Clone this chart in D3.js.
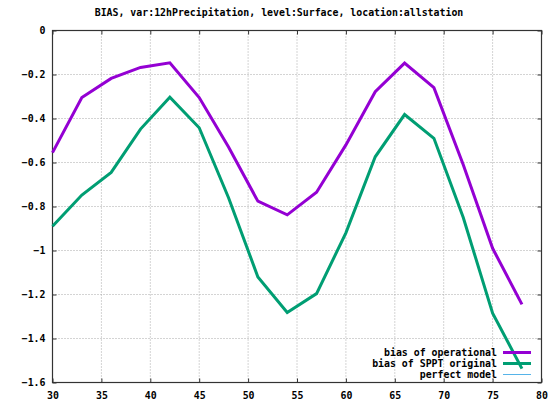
<!DOCTYPE html>
<html>
<head>
<meta charset="utf-8">
<script src="https://cdn.jsdelivr.net/npm/d3@7"></script>
<style>
  html, body { margin: 0; padding: 0; background: #fff; }
  svg { display: block; }
  text { font-family: "DejaVu Sans Mono", monospace; font-weight: bold; font-size: 9.9px; fill: #000; }
</style>
</head>
<body>
<svg id="chart" width="554" height="403"></svg>
<script>
const title = "BIAS, var:12hPrecipitation, level:Surface, location:allstation";
const leadHours = [30, 33, 36, 39, 42, 45, 48, 51, 54, 57, 60, 63, 66, 69, 72, 75, 78];
const biasOperational = [-0.555, -0.305, -0.218, -0.168, -0.147, -0.305, -0.53, -0.776, -0.838, -0.735, -0.52, -0.278, -0.148, -0.26, -0.61, -0.99, -1.245];
const biasSPPT = [-0.89, -0.748, -0.645, -0.448, -0.303, -0.442, -0.76, -1.12, -1.282, -1.196, -0.92, -0.574, -0.382, -0.49, -0.85, -1.285, -1.537];
const seriesNames = ["bias of operational", "bias of SPPT original", "perfect model"];
const xTicks = [30, 35, 40, 45, 50, 55, 60, 65, 70, 75, 80];
const yTicks = [0, -0.2, -0.4, -0.6, -0.8, -1, -1.2, -1.4, -1.6];

const svg = d3.select("#chart");
const L = 52.5, R = 541.5, T = 30.5, B = 382.5;
const x = d3.scaleLinear().domain([30, 80]).range([L, R]);
const y = d3.scaleLinear().domain([-1.6, 0]).range([B, T]);

// Title
svg.append("text").attr("x", 279).attr("y", 16).attr("text-anchor", "middle").text(title);

// Grid
const grid = svg.append("g");
xTicks.slice(1, -1).forEach(t => {
  grid.append("line").attr("x1", x(t)).attr("x2", x(t)).attr("y1", T).attr("y2", B)
    .attr("stroke", "#a8a8a8").attr("stroke-width", 1).attr("stroke-dasharray", "1,2");
});
yTicks.slice(1, -1).forEach(t => {
  grid.append("line").attr("x1", L).attr("x2", R).attr("y1", y(t)).attr("y2", y(t))
    .attr("stroke", "#a8a8a8").attr("stroke-width", 1).attr("stroke-dasharray", "1,2");
});

const fmt = d => d === 0 ? "0" : d3.format("")(d);

// Axes (gnuplot style: inward ticks, mirrored)
const axB = svg.append("g").attr("transform", `translate(0,${B})`)
  .call(d3.axisBottom(x).tickValues(xTicks).tickSizeInner(-4).tickSizeOuter(0).tickPadding(9).tickFormat(fmt));
const axT = svg.append("g").attr("transform", `translate(0,${T})`)
  .call(d3.axisTop(x).tickValues(xTicks).tickSizeInner(-4).tickSizeOuter(0).tickFormat(""));
const axL = svg.append("g").attr("transform", `translate(${L},0)`)
  .call(d3.axisLeft(y).tickValues(yTicks).tickSizeInner(-4).tickSizeOuter(0).tickPadding(7).tickFormat(fmt));
const axR = svg.append("g").attr("transform", `translate(${R},0)`)
  .call(d3.axisRight(y).tickValues(yTicks).tickSizeInner(-4).tickSizeOuter(0).tickFormat(""));
[axB, axT, axL, axR].forEach(a => {
  a.select(".domain").remove();
  a.selectAll(".tick line").attr("stroke", "#333");
  a.selectAll("text").attr("font-family", null).attr("font-size", null).style("fill", "#000");
});
axB.selectAll("text").attr("dy", "0.71em");

// Border
svg.append("rect").attr("x", L).attr("y", T).attr("width", R - L).attr("height", B - T)
  .attr("fill", "none").attr("stroke", "#333").attr("stroke-width", 1.2);

// Lines
const colors = ["#9400d3", "#009e73", "#56b4e9"];
const line = d3.line().x(d => x(d[0])).y(d => y(d[1]));
[biasOperational, biasSPPT].forEach((vals, i) => {
  svg.append("path").datum(leadHours.map((h, j) => [h, vals[j]]))
    .attr("d", line).attr("fill", "none").attr("stroke", colors[i])
    .attr("stroke-width", 3).attr("stroke-linejoin", "miter");
});

// Legend
const leg = svg.append("g");
seriesNames.forEach((name, i) => {
  const ly = 352.5 + i * 11;
  leg.append("text").attr("x", 497).attr("y", ly).attr("dy", "0.35em").attr("text-anchor", "end").text(name);
  leg.append("line").attr("x1", 503).attr("x2", 531).attr("y1", ly).attr("y2", ly)
    .attr("stroke", colors[i]).attr("stroke-width", i < 2 ? 3 : 1);
});
</script>
</body>
</html>
